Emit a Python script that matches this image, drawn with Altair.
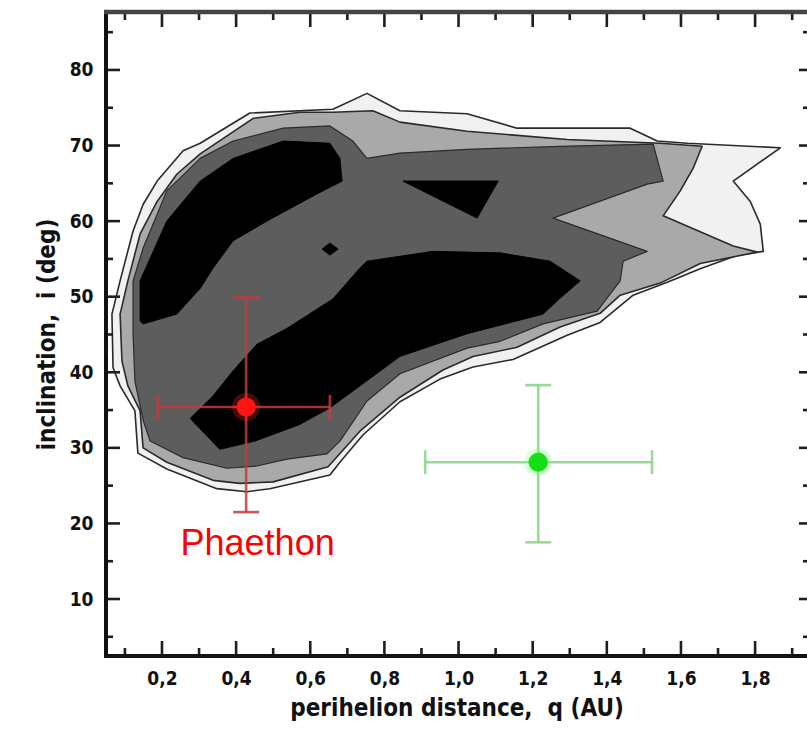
import altair as alt
import pandas as pd

# ---- contour levels (q in AU, i in deg) ----
lvl0_q = [0.065,0.087,0.122,0.149,0.187,0.257,0.303,0.437,0.661,0.753,0.842,1.023,1.158,1.463,1.536,1.617,1.868,1.741,1.787,1.814,1.822,1.752,1.652,1.563,1.471,1.382,1.293,1.147,1.039,0.950,0.842,0.742,0.680,0.653,0.491,0.429,0.348,0.213,0.135,0.127,0.087,0.068]
lvl0_i = [47.7,52.1,58.7,62.2,65.3,69.3,70.3,74.3,74.8,76.9,74.6,74.2,72.3,72.3,70.6,70.3,69.7,65.3,62.6,59.6,56.0,55.5,53.7,51.9,50.2,46.6,44.9,41.7,40.7,39.1,36.1,31.7,28.1,26.4,24.6,24.2,24.6,27.2,29.3,34.9,38.2,40.6]

lvl1_q = [0.087,0.108,0.141,0.187,0.240,0.303,0.446,0.572,0.661,0.769,0.842,1.023,1.293,1.544,1.657,1.633,1.598,1.552,1.741,1.806,1.652,1.544,1.436,1.382,1.274,1.158,1.039,0.958,0.842,0.734,0.648,0.500,0.410,0.338,0.213,0.149,0.141,0.108,0.092]
lvl1_i = [47.7,52.1,58.3,62.6,66.2,68.9,73.6,74.4,74.4,74.6,73.1,71.9,70.8,70.3,69.9,67.0,64.0,60.7,56.7,55.9,54.4,51.8,50.2,47.8,46.0,43.3,42.1,40.3,36.7,32.2,27.5,25.5,25.3,25.7,28.1,30.0,34.9,38.2,41.5]

lvl2_q = [0.122,0.149,0.213,0.303,0.392,0.527,0.653,0.715,0.753,0.842,1.023,1.274,1.525,1.552,1.509,1.255,1.509,1.444,1.436,1.374,1.228,1.112,1.023,0.842,0.753,0.680,0.645,0.537,0.456,0.375,0.257,0.168,0.150,0.127,0.122]
lvl2_i = [52.1,56.4,64.0,68.3,70.6,72.3,72.6,70.6,68.3,69.0,69.5,69.9,70.2,65.3,64.9,60.4,56.0,54.7,52.1,48.1,46.4,44.1,43.2,39.8,36.2,30.9,29.2,28.5,27.6,27.3,28.7,30.9,33.5,38.8,45.0]

core_a_q = [0.141,0.141,0.213,0.303,0.392,0.527,0.653,0.680,0.686,0.618,0.483,0.392,0.338,0.303,0.240,0.149]
core_a_i = [46.8,52.1,60.0,65.3,68.3,70.6,70.3,68.3,65.3,63.6,60.0,57.4,53.8,51.1,47.7,46.4]

core_b_q = [0.276,0.338,0.392,0.456,0.537,0.661,0.734,0.753,0.931,1.112,1.247,1.328,1.274,1.228,1.023,0.842,0.734,0.653,0.572,0.451,0.356]
core_b_i = [33.9,36.9,40.2,43.7,45.8,49.7,53.8,54.7,56.0,55.8,54.7,52.1,49.8,47.7,45.1,42.1,38.2,35.3,33.1,30.9,29.8]

core_c_q = [0.850,1.107,1.050]
core_c_i = [65.3,65.3,60.4]

core_d_q = [0.632,0.653,0.675,0.653]
core_d_i = [56.3,57.1,56.3,55.5]

# ---- objects with error bars ----
obj_name = ["Phaethon", "other"]
obj_q = [0.427, 1.215]
obj_i = [35.4, 28.1]
obj_q_lo = [0.189, 0.910]
obj_q_hi = [0.653, 1.522]
obj_i_lo = [21.5, 17.5]
obj_i_hi = [49.9, 38.3]
obj_bar_color = ["#c83a3a", "#86d486"]
obj_dot_color = ["#ff1414", "#14e014"]
obj_glow_color = ["#ff3030", "#70ff70"]

label_text = ["Phaethon"]
label_q = [0.458]
label_i = [15.8]

x_major = [0.2, 0.4, 0.6, 0.8, 1.0, 1.2, 1.4, 1.6, 1.8]
x_minor = [0.1, 0.3, 0.5, 0.7, 0.9, 1.1, 1.3, 1.5, 1.7, 1.9]
y_major = [10, 20, 30, 40, 50, 60, 70, 80]
y_minor = [5, 15, 25, 35, 45, 55, 65, 75, 85]

W, H = 701, 644
FONT = "DejaVu Sans Condensed, Liberation Sans"

xs = alt.Scale(domain=[0.049, 1.940], nice=False, zero=False)
ys = alt.Scale(domain=[2.46, 87.67], nice=False, zero=False)

xaxis = alt.Axis(values=x_major, labelExpr="replace(format(datum.value, '.1f'), '.', ',')",
                 ticks=False, domain=False, grid=False, labelFont=FONT, labelFontSize=19,
                 labelFontWeight="bold", labelColor="#111", labelPadding=13,
                 title="perihelion distance,\u00a0 q (AU)", titleFont=FONT, titleFontSize=24,
                 titleFontWeight="bold", titleColor="#111", titlePadding=8)
yaxis = alt.Axis(values=y_major, ticks=False, domain=False, grid=False, labelFont=FONT,
                 labelFontSize=19, labelFontWeight="bold", labelColor="#111", labelPadding=13,
                 title="inclination,\u00a0 i (deg)", titleFont=FONT, titleFontSize=24,
                 titleFontWeight="bold", titleColor="#111", titlePadding=10)

X = alt.X("q:Q", scale=xs, axis=xaxis)
Y = alt.Y("i:Q", scale=ys, axis=yaxis)


def poly_df(qs, is_, name):
    return pd.DataFrame({"q": qs, "i": is_, "poly": name, "ord": list(range(len(qs)))})


def poly_layer(df, fill, stroke, sw):
    return alt.Chart(df).mark_line(interpolate="linear-closed", fill=fill, stroke=stroke,
                                   strokeWidth=sw, strokeJoin="round").encode(
        x=X, y=Y, detail="poly:N", order="ord:Q")


l0 = poly_layer(poly_df(lvl0_q, lvl0_i, "l0"), "#f1f1f1", "#2a2a2a", 1.6)
l1 = poly_layer(poly_df(lvl1_q, lvl1_i, "l1"), "#a9a9a9", "#2a2a2a", 1.6)
l2 = poly_layer(poly_df(lvl2_q, lvl2_i, "l2"), "#5d5d5d", "#2a2a2a", 1.2)
cores = pd.concat([poly_df(core_a_q, core_a_i, "a"), poly_df(core_b_q, core_b_i, "b"),
                   poly_df(core_c_q, core_c_i, "c"), poly_df(core_d_q, core_d_i, "d")])
l3 = poly_layer(cores, "#000000", "#000000", 1)

obj = pd.DataFrame({"name": obj_name, "q": obj_q, "i": obj_i, "q_lo": obj_q_lo,
                    "q_hi": obj_q_hi, "i_lo": obj_i_lo, "i_hi": obj_i_hi,
                    "bc": obj_bar_color, "dc": obj_dot_color, "gc": obj_glow_color})
bar_col = alt.Color("bc:N", scale=None)

hbar = alt.Chart(obj).mark_rule(strokeWidth=2.6, opacity=0.85).encode(
    x=alt.X("q_lo:Q", scale=xs, axis=xaxis), x2="q_hi:Q", y=Y, color=bar_col)
vbar = alt.Chart(obj).mark_rule(strokeWidth=2.6, opacity=0.85).encode(
    x=X, y=alt.Y("i_lo:Q", scale=ys, axis=yaxis), y2="i_hi:Q", color=bar_col)

caps_h = pd.DataFrame({"q": obj_q_lo + obj_q_hi, "i": obj_i + obj_i, "bc": obj_bar_color * 2})
caps_v = pd.DataFrame({"q": obj_q + obj_q, "i": obj_i_lo + obj_i_hi, "bc": obj_bar_color * 2})
capv = alt.Chart(caps_h).mark_tick(orient="vertical", size=24, thickness=2.6, opacity=0.85).encode(
    x=X, y=Y, color=bar_col)
caph = alt.Chart(caps_v).mark_tick(orient="horizontal", size=26, thickness=2.6, opacity=0.85).encode(
    x=X, y=Y, color=bar_col)

glow = alt.Chart(obj).mark_circle(size=800, opacity=0.25).encode(
    x=X, y=Y, color=alt.Color("gc:N", scale=None))
pts = alt.Chart(obj).mark_circle(size=370, opacity=1).encode(
    x=X, y=Y, color=alt.Color("dc:N", scale=None))

lab = alt.Chart(pd.DataFrame({"t": label_text, "q": label_q, "i": label_i})).mark_text(
    font="Liberation Sans", fontSize=36, color="#ff0000", align="center", baseline="alphabetic").encode(
    x=X, y=Y, text="t:N")

# ticks pointing inward
tick_col = "#1e1e1e"
xmaj = pd.DataFrame({"q": x_major})
xmin = pd.DataFrame({"q": x_minor})
ymaj = pd.DataFrame({"i": y_major})
ymin = pd.DataFrame({"i": y_minor})

def xt(df, y0, y1):
    return alt.Chart(df).mark_rule(color=tick_col, strokeWidth=2.6).encode(x=X, y=alt.value(y0), y2=alt.value(y1))

def yt(df, x0, x1):
    return alt.Chart(df).mark_rule(color=tick_col, strokeWidth=2.6).encode(y=Y, x=alt.value(x0), x2=alt.value(x1))

ticks = [xt(xmaj, H, H - 15), xt(xmin, H, H - 8), xt(xmaj, 0, 15), xt(xmin, 0, 8),
         yt(ymaj, 0, 14), yt(ymin, 0, 7), yt(ymaj, W, W - 8), yt(ymin, W, W - 4)]

one = pd.DataFrame({"a": [0]})
frame_l = alt.Chart(one).mark_rule(color="#111", strokeWidth=4).encode(x=alt.value(0), y=alt.value(-2), y2=alt.value(H + 2))
frame_b = alt.Chart(one).mark_rule(color="#111", strokeWidth=4).encode(y=alt.value(H), x=alt.value(-2), x2=alt.value(W))
frame_t = alt.Chart(one).mark_rule(color="#444", strokeWidth=4.5).encode(y=alt.value(0), x=alt.value(-2), x2=alt.value(W))

chart = alt.layer(l0, l1, l2, l3, hbar, vbar, capv, caph, glow, pts, lab, *ticks,
                  frame_l, frame_b, frame_t).properties(
    width=W, height=H,
    padding={"left": 106, "top": 12, "right": 0, "bottom": 89},
    autosize=alt.AutoSizeParams(type="none"),
    background="white",
).configure_view(strokeWidth=0)

chart.save("out.html", embed_options={"renderer": "svg", "actions": False})
